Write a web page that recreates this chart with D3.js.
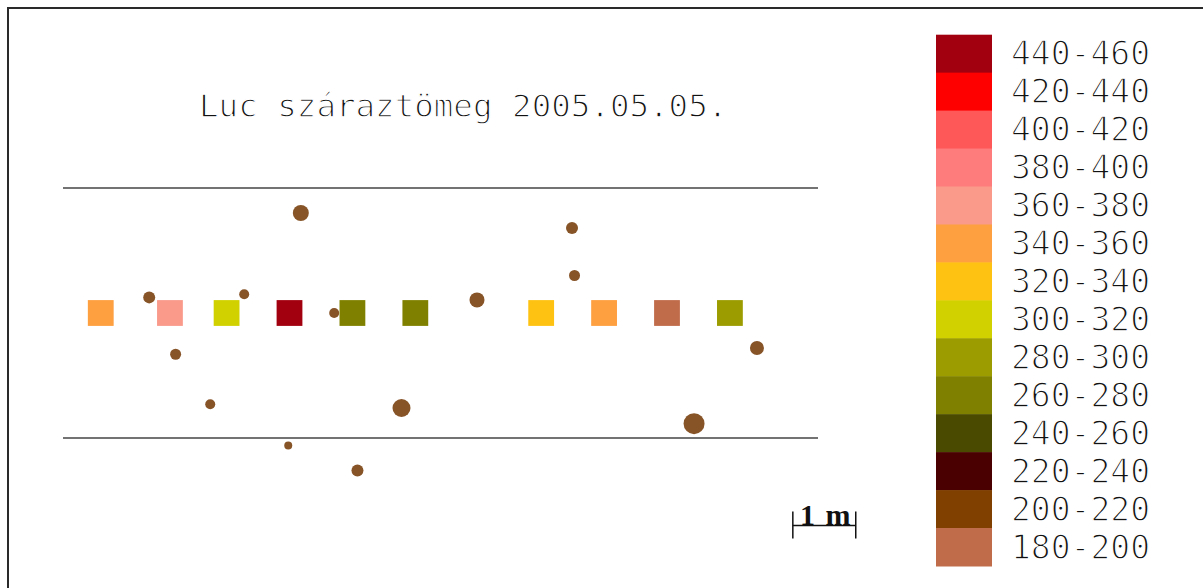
<!DOCTYPE html>
<html>
<head>
<meta charset="utf-8">
<script src="https://cdn.jsdelivr.net/npm/d3@7"></script>
<style>
  html, body { margin: 0; padding: 0; background: #fff; }
  svg { display: block; }
</style>
</head>
<body>
<svg id="chart" width="1203" height="588"></svg>
<script>
// Legend classes (g dry mass), top to bottom
const classLabels = ["440-460", "420-440", "400-420", "380-400", "360-380", "340-360", "320-340",
                     "300-320", "280-300", "260-280", "240-260", "220-240", "200-220", "180-200"];
const classColors = ["#a3000f", "#ff0000", "#ff5858", "#ff7c7c", "#f99a8b", "#fe9f40", "#fec312",
                     "#d1d100", "#9c9c00", "#808000", "#4a4a00", "#4a0000", "#804000", "#c06c4a"];
const classBreaks = [200, 220, 240, 260, 280, 300, 320, 340, 360, 380, 400, 420, 440];

// Sample plots along the row: position (m) and spruce dry mass
const plotX = [0.6, 1.7, 2.6, 3.6, 4.6, 5.6, 7.6, 8.6, 9.6, 10.6];
const plotMass = [352, 371, 309, 447, 268, 273, 331, 346, 193, 288];

// Neighbouring trees: position (m) and stem diameter (cm)
const treeX = [3.78, 1.37, 2.88, 4.31, 1.79, 2.34, 5.38, 3.58, 4.68, 6.58, 8.09, 8.13, 11.03, 10.03];
const treeY = [1.60, 0.25, 0.30, 0.00, -0.66, -1.46, -1.52, -2.12, -2.52, 0.21, 1.36, 0.60, -0.56, -1.77];
const treeD = [16, 12, 10, 10, 11, 10, 18, 8, 12, 15, 12, 11, 14, 21];

const title = "Luc száraztömeg 2005.05.05.";
const scaleLabel = "1 m";

const svg = d3.select("#chart");
const W = 1203, H = 588;

// Map coordinates in metres
const x = d3.scaleLinear().domain([0, 12]).range([63, 818]);
const y = d3.scaleLinear().domain([-2, 2]).range([438, 188]);
const r = d3.scaleLinear().domain([0, 20]).range([0, 10]);
const color = d3.scaleThreshold().domain(classBreaks).range(classColors.slice().reverse());
const plotSide = 0.41; // m

// Frame
svg.append("rect")
  .attr("x", 8).attr("y", 8).attr("width", W + 10).attr("height", H + 10)
  .attr("fill", "none").attr("stroke", "#2a2a2a").attr("stroke-width", 2);

// Thin-stroke lettering: a white outline eats into the glyphs
function thinText(sel) {
  return sel
    .attr("font-family", "DejaVu Sans Mono")
    .attr("fill", "#111")
    .attr("stroke", "#fff")
    .attr("stroke-width", 1.3)
    .attr("paint-order", "fill stroke");
}

// Title
svg.append("text")
  .attr("x", 199).attr("y", 117)
  .attr("font-size", 32.5)
  .call(thinText)
  .text(title);

// Row boundary lines
const g = svg.append("g");
g.selectAll("line.row")
  .data([2, -2])
  .join("line")
  .attr("class", "row")
  .attr("x1", x(0)).attr("x2", x(12))
  .attr("y1", d => y(d)).attr("y2", d => y(d))
  .attr("stroke", "#444").attr("stroke-width", 1.4);

// Sample plots
const side = x(plotSide) - x(0);
g.selectAll("rect.plot")
  .data(plotX.map((px, i) => ({ px, m: plotMass[i] })))
  .join("rect")
  .attr("class", "plot")
  .attr("x", d => x(d.px) - side / 2)
  .attr("y", y(0) - side / 2)
  .attr("width", side).attr("height", side)
  .attr("fill", d => color(d.m));

// Trees
g.selectAll("circle.tree")
  .data(treeX.map((tx, i) => ({ tx, ty: treeY[i], d: treeD[i] })))
  .join("circle")
  .attr("class", "tree")
  .attr("cx", d => x(d.tx)).attr("cy", d => y(d.ty))
  .attr("r", d => r(d.d))
  .attr("fill", "#875428");

// Scale bar (1 m)
const sb0 = 11.6, sb1 = sb0 + 1, sbY = 525.5;
const sb = svg.append("g").attr("stroke", "#111").attr("stroke-width", 1.5);
sb.append("line").attr("x1", x(sb0)).attr("x2", x(sb1)).attr("y1", sbY).attr("y2", sbY);
sb.append("line").attr("x1", x(sb0)).attr("x2", x(sb0)).attr("y1", sbY - 14).attr("y2", sbY + 13);
sb.append("line").attr("x1", x(sb1)).attr("x2", x(sb1)).attr("y1", sbY - 14).attr("y2", sbY + 13);
svg.append("text")
  .attr("x", (x(sb0) + x(sb1)) / 2 + 1).attr("y", sbY - 1)
  .attr("text-anchor", "middle")
  .attr("font-family", "Liberation Serif")
  .attr("font-weight", "bold")
  .attr("font-size", 30)
  .attr("word-spacing", 3)
  .attr("fill", "#111")
  .text(scaleLabel);

// Legend
const lgTop = 34.7, lgStep = 37.95;
const lg = svg.append("g");
lg.selectAll("rect")
  .data(classLabels)
  .join("rect")
  .attr("x", 936).attr("y", (d, i) => lgTop + i * lgStep)
  .attr("width", 56).attr("height", lgStep + 0.5)
  .attr("fill", (d, i) => classColors[i]);
lg.selectAll("text")
  .data(classLabels)
  .join("text")
  .attr("x", 1011).attr("y", (d, i) => lgTop + (i + 0.5) * lgStep + 11.7)
  .attr("font-size", 33)
  .call(thinText)
  .text(d => d);
</script>
</body>
</html>
